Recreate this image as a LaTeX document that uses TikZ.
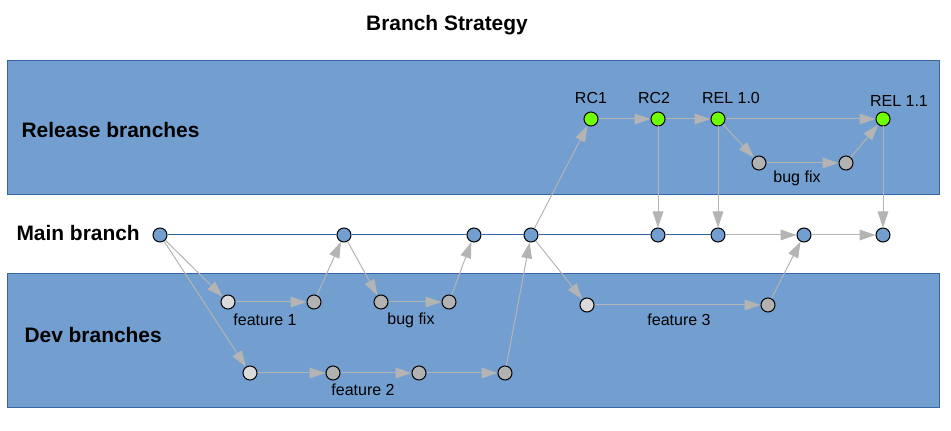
\documentclass[tikz,border=0pt]{standalone}
\usepackage{fontspec}
\setmainfont{Liberation Sans}
\usetikzlibrary{arrows.meta}

\tikzset{every picture/.style={line width=0.75pt}}
\tikzset{
  band/.style={draw={rgb, 255:red, 52; green, 101; blue, 164 }, fill={rgb, 255:red, 114; green, 159; blue, 207 }, fill opacity=1},
  commit/.style={circle, draw=black, inner sep=0pt, minimum size=10.5pt, line width=0.75pt},
  maindot/.style={commit, fill={rgb, 255:red, 114; green, 159; blue, 207 }},
  reldot/.style={commit, fill={rgb, 255:red, 110; green, 255; blue, 0 }},
  newdot/.style={commit, fill={rgb, 255:red, 218; green, 218; blue, 218 }},
  devdot/.style={commit, fill={rgb, 255:red, 178; green, 178; blue, 178 }},
  flow/.style={draw={rgb, 255:red, 180; green, 180; blue, 180 }, -{Triangle[length=12pt,width=8pt]}},
  trunk/.style={draw={rgb, 255:red, 52; green, 101; blue, 164 }},
  lbl/.style={inner sep=0.75pt, font=\fontsize{12}{14}\selectfont},
  heading/.style={inner sep=0.75pt, font=\bfseries\fontsize{15.7}{18}\selectfont}
}

\begin{document}
\begin{tikzpicture}[x=0.75pt,y=0.75pt,yscale=-1,xscale=1]
\useasboundingbox (0,0) rectangle (951,431);

%Shape: Rectangle [release band]
\draw [band] (7,61) -- (939,61) -- (939,195) -- (7,195) -- cycle ;
%Shape: Rectangle [dev band]
\draw [band] (7,274) -- (939,274) -- (939,408) -- (7,408) -- cycle ;

%Main branch commits
\draw (160,235) node [maindot] (m1) {};
\draw (344,235) node [maindot] (m2) {};
\draw (474,235) node [maindot] (m3) {};
\draw (531,235) node [maindot] (m4) {};
\draw (658,235) node [maindot] (m5) {};
\draw (718,235) node [maindot] (m6) {};
\draw (804,235) node [maindot] (m7) {};
\draw (883,235) node [maindot] (m8) {};

%Release commits
\draw (591,119) node [reldot] (rc1) {};
\draw (658,119) node [reldot] (rc2) {};
\draw (718,119) node [reldot] (rel10) {};
\draw (883,119) node [reldot] (rel11) {};
\draw (759,163) node [devdot] (rfix1) {};
\draw (846,163) node [devdot] (rfix2) {};

%Dev commits
\draw (228,302) node [newdot] (fa1) {};
\draw (314,302) node [devdot] (fa2) {};
\draw (381,302) node [devdot] (bf1) {};
\draw (449,302) node [devdot] (bf2) {};
\draw (250,373) node [newdot] (fb1) {};
\draw (333,373) node [devdot] (fb2) {};
\draw (419,373) node [devdot] (fb3) {};
\draw (505,373) node [devdot] (fb4) {};
\draw (587,305) node [newdot] (fc1) {};
\draw (768,305) node [devdot] (fc2) {};

%Straight Lines [main line]
\draw [trunk] (m1) -- (m2) -- (m3) -- (m4) -- (m5) -- (m6) ;

%Arrows [main]
\draw [flow] (m6) -- (m7) ;
\draw [flow] (m7) -- (m8) ;
%Arrows [feature 1]
\draw [flow] (m1) -- (fa1) ;
\draw [flow] (fa1) -- (fa2) ;
\draw [flow] (fa2) -- (m2) ;
%Arrows [bug fix]
\draw [flow] (m2) -- (bf1) ;
\draw [flow] (bf1) -- (bf2) ;
\draw [flow] (bf2) -- (m3) ;
%Arrows [feature 2]
\draw [flow] (m1) -- (fb1) ;
\draw [flow] (fb1) -- (fb2) ;
\draw [flow] (fb2) -- (fb3) ;
\draw [flow] (fb3) -- (fb4) ;
\draw [flow] (fb4) -- (m4) ;
%Arrows [feature 3]
\draw [flow] (m4) -- (fc1) ;
\draw [flow] (fc1) -- (fc2) ;
\draw [flow] (fc2) -- (m7) ;
%Arrows [release]
\draw [flow] (m4) -- (rc1) ;
\draw [flow] (rc1) -- (rc2) ;
\draw [flow] (rc2) -- (rel10) ;
\draw [flow] (rel10) -- (rel11) ;
\draw [flow] (rel10) -- (rfix1) ;
\draw [flow] (rfix1) -- (rfix2) ;
\draw [flow] (rfix2) -- (rel11) ;
\draw [flow] (rc2) -- (m5) ;
\draw [flow] (rel10) -- (m6) ;
\draw [flow] (rel11) -- (m8) ;

% Text Node
\draw (447,25) node [heading] (title) {Branch Strategy};
% Text Node
\draw (20,130) node [heading, anchor=west] (relhead) {Release branches};
% Text Node
\draw (15,233) node [heading, anchor=west] (mainhead) {Main branch};
% Text Node
\draw (23,335) node [heading, anchor=west] (devhead) {Dev branches};
% Text Node
\draw (591,98) node [lbl] (rc1lbl) {RC1};
% Text Node
\draw (654,98) node [lbl] (rc2lbl) {RC2};
% Text Node
\draw (731,98) node [lbl] (rel10lbl) {REL 1.0};
% Text Node
\draw (899,101) node [lbl] (rel11lbl) {REL 1.1};
% Text Node
\draw (797,178) node [lbl] (rfixlbl) {bug fix};
% Text Node
\draw (265,320) node [lbl] (falbl) {feature 1};
% Text Node
\draw (411,320) node [lbl] (bflbl) {bug fix};
% Text Node
\draw (363,390) node [lbl] (fblbl) {feature 2};
% Text Node
\draw (679,320) node [lbl] (fclbl) {feature 3};

\end{tikzpicture}
\end{document}
